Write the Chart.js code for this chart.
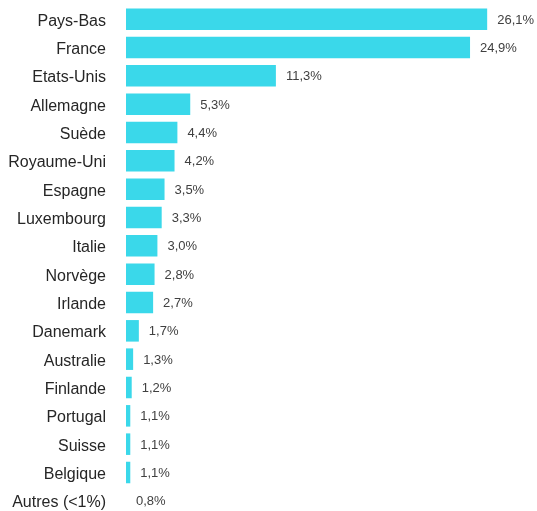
<!DOCTYPE html>
<html>
<head>
<meta charset="utf-8">
<script src="https://cdn.jsdelivr.net/npm/chart.js@4"></script>
<style>
  html, body { margin: 0; padding: 0; background: #ffffff; overflow: hidden; }
  canvas { display: block; }
</style>
</head>
<body>
<canvas id="chart" width="537" height="515"></canvas>
<script>
const countries = ['Pays-Bas', 'France', 'Etats-Unis', 'Allemagne', 'Suède', 'Royaume-Uni',
    'Espagne', 'Luxembourg', 'Italie', 'Norvège', 'Irlande', 'Danemark', 'Australie',
    'Finlande', 'Portugal', 'Suisse', 'Belgique', 'Autres (<1%)'];
const shares = [26.1, 24.9, 11.3, 5.3, 4.4, 4.2, 3.5, 3.3, 3.0, 2.8, 2.7, 1.7, 1.3, 1.2, 1.1, 1.1, 1.1, 0.8];

const axisMin = 0.8;
const axisMax = 29.1;

// draws "26,1%" style labels just right of each bar
const valueLabels = {
    id: 'valueLabels',
    afterDatasetsDraw(chart) {
        const ctx = chart.ctx;
        const meta = chart.getDatasetMeta(0);
        ctx.save();
        ctx.font = '13px "Liberation Sans", Arial, sans-serif';
        ctx.fillStyle = '#404040';
        ctx.textAlign = 'left';
        ctx.textBaseline = 'middle';
        meta.data.forEach((bar, i) => {
            const txt = shares[i].toFixed(1).replace('.', ',') + '%';
            ctx.fillText(txt, bar.x + 10, bar.y + 1);
        });
        ctx.restore();
    }
};

new Chart(document.getElementById('chart'), {
    type: 'bar',
    data: {
        labels: countries,
        datasets: [{
            data: shares,
            backgroundColor: 'rgb(58, 216, 234)',
            borderWidth: 0,
            categoryPercentage: 1,
            barPercentage: 0.76
        }]
    },
    options: {
        indexAxis: 'y',
        responsive: false,
        animation: false,
        layout: { padding: { top: 5, right: 7, bottom: 0, left: 0 } },
        scales: {
            x: {
                display: false,
                min: axisMin,
                max: axisMax
            },
            y: {
                grid: { display: false, drawTicks: false },
                border: { display: false },
                ticks: {
                    padding: 20,
                    labelOffset: 2,
                    color: '#262626',
                    font: { family: '"Liberation Sans", Arial, sans-serif', size: 16 }
                },
                afterFit(scale) {
                    scale.width = 126;
                    scale.paddingTop = 0;
                    scale.paddingBottom = 0;
                }
            }
        },
        plugins: {
            legend: { display: false },
            tooltip: { enabled: false }
        }
    },
    plugins: [valueLabels]
});
</script>
</body>
</html>
